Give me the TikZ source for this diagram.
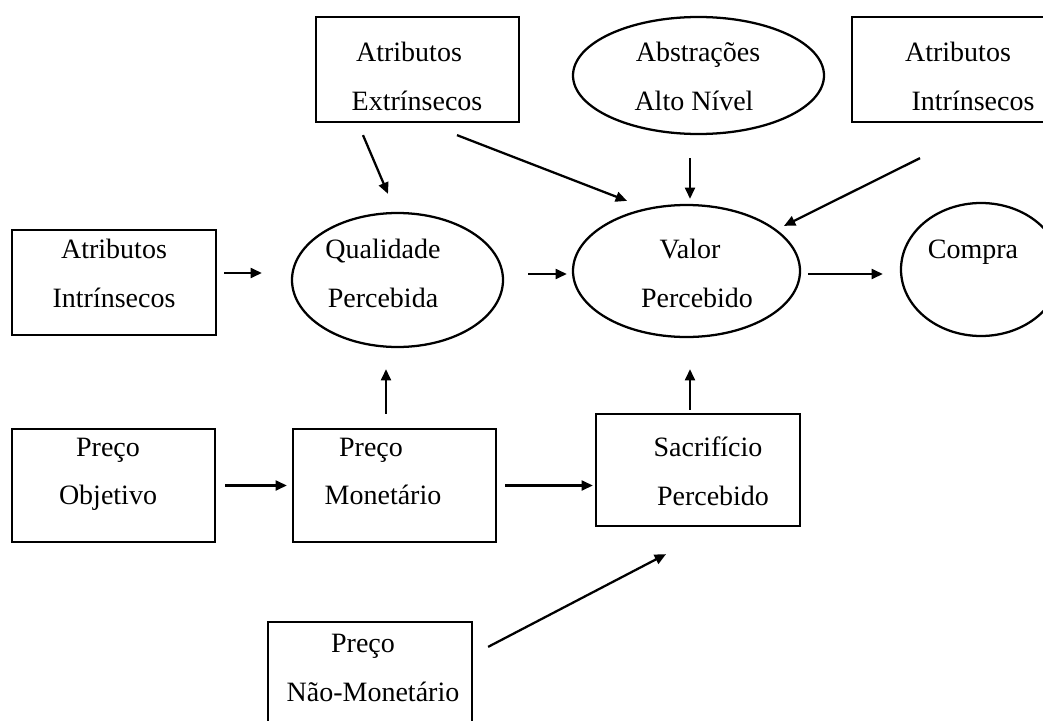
\documentclass[tikz,border=0pt]{standalone}
\usepackage{fontspec}
\setmainfont{Liberation Serif}
\usetikzlibrary{arrows.meta,calc,shapes.geometric}

\tikzset{
  blk/.style={draw,line width=1.7pt,rectangle,inner sep=0pt},
  elp/.style={draw,line width=1.7pt,ellipse,inner sep=0pt},
  txt/.style={align=center,inner sep=0.75pt,font=\fontsize{21pt}{36.2pt}\selectfont},
  arr/.style={line width=1.7pt,-{Triangle[length=8.5pt,width=7.5pt]}}
}

\begin{document}
\begin{tikzpicture}[x=0.75pt,y=0.75pt,yscale=-1,xscale=1]
\useasboundingbox (0,0) rectangle (1043,721);
\clip (0,0) rectangle (1043,721);

%Shape: Rectangle [ext]
\node[blk,minimum width=152.25pt,minimum height=78.75pt] (ext) at (417.5,69.5) {};
%Shape: Ellipse [abs]
\node[elp,minimum width=188.25pt,minimum height=87.75pt] (abs) at (698.5,75.5) {};
%Shape: Rectangle [intr]
\node[blk,minimum width=169.5pt,minimum height=78.75pt] (intr) at (965,69.5) {};
%Shape: Rectangle [intl]
\node[blk,minimum width=153pt,minimum height=78.75pt] (intl) at (114,282.5) {};
%Shape: Ellipse [qual]
\node[elp,minimum width=158.25pt,minimum height=100.5pt] (qual) at (397.5,280) {};
%Shape: Ellipse [valor]
\node[elp,minimum width=170.25pt,minimum height=99pt] (valor) at (686.5,271) {};
%Shape: Ellipse [compra]
\node[elp,minimum width=120pt,minimum height=99.75pt] (compra) at (981,269.5) {};
%Shape: Rectangle [obj]
\node[blk,minimum width=152.25pt,minimum height=84.75pt] (obj) at (113.5,485.5) {};
%Shape: Rectangle [mon]
\node[blk,minimum width=152.25pt,minimum height=84.75pt] (mon) at (394.5,485.5) {};
%Shape: Rectangle [sac]
\node[blk,minimum width=153pt,minimum height=84pt] (sac) at (698,470) {};
%Shape: Rectangle [nmon]
\node[blk,minimum width=153pt,minimum height=88.5pt] (nmon) at (370,681) {};

%Straight Lines [ext -> qual]
\draw[arr] ($(ext.south)+(-54.5,12)$) -- ($(qual.north)+(-9.5,-18)$);
%Straight Lines [ext -> valor]
\draw[arr] ($(ext.south)+(39.5,12)$) -- ($(valor.north)+(-59.5,-3)$);
%Straight Lines [abs -> valor]
\draw[arr] ($(abs.south)+(-8.5,23)$) -- ($(valor.north)+(3.5,-5)$);
%Straight Lines [intr -> valor]
\draw[arr] ($(intr.south)+(-45,35)$) -- ($(valor.north)+(97.5,22)$);
%Straight Lines [intl -> qual]
\draw[arr] ($(intl.east)+(7,-9.5)$) -- ($(qual.west)+(-29,-7)$);
%Straight Lines [qual -> valor]
\draw[arr] ($(qual.east)+(24,-6)$) -- ($(valor.west)+(-5,3)$);
%Straight Lines [valor -> compra]
\draw[arr] ($(valor.east)+(7,3)$) -- ($(compra.west)+(-17,4.5)$);
%Straight Lines [obj -> mon]
\draw[arr] ($(obj.east)+(9,0)$) -- ($(mon.west)+(-5,0)$);
%Straight Lines [mon -> qual]
\draw[arr] ($(mon.north)+(-8.5,-14)$) -- ($(qual.south)+(-11.5,21)$);
%Straight Lines [mon -> sac]
\draw[arr] ($(mon.east)+(8,0)$) -- ($(sac.west)+(-2,15.5)$);
%Straight Lines [sac -> valor]
\draw[arr] ($(sac.north)+(-8,-3)$) -- ($(valor.south)+(3.5,31)$);
%Straight Lines [nmon -> sac]
\draw[arr] ($(nmon.north east)+(15,26)$) -- ($(sac.south)+(-32,27)$);

% Text Node
\node[txt] (extT) at (409,76.3) {Atributos\\\hspace*{12pt}Extrínsecos};
% Text Node
\node[txt] (absT) at (694,76.3) {\hspace*{6pt}Abstrações\\Alto Nível};
% Text Node
\node[txt] (intrT) at (958,76.3) {Atributos\\\hspace*{22.5pt}Intrínsecos};
% Text Node
\node[txt] (intlT) at (114,273.3) {Atributos\\Intrínsecos};
% Text Node
\node[txt] (qualT) at (383,273.3) {Qualidade\\Percebida};
% Text Node
\node[txt] (valorT) at (690,273.3) {Valor\\\hspace*{10.5pt}Percebido};
% Text Node
\node[txt,anchor=base] (compraT) at (973,258.3) {Compra};
% Text Node
\node[txt] (objT) at (108,474.3) {Preço\\Objetivo};
% Text Node
\node[txt] (monT) at (371,471.3) {Preço\\\hspace*{18pt}Monetário};
% Text Node
\node[txt] (sacT) at (708,471.3) {Sacrifício\\\hspace*{7.5pt}Percebido};
% Text Node
\node[txt] (nmonT) at (363,668) {Preço\\\hspace*{15pt}Não-Monetário};
\end{tikzpicture}
\end{document}
